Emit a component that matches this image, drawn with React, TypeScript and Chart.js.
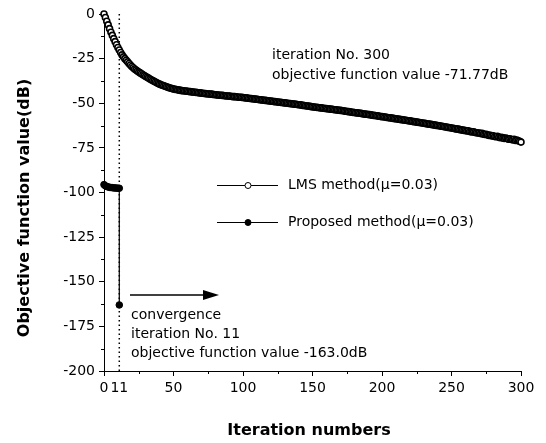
import React, { useEffect, useRef } from 'react';
import { Chart, registerables } from 'chart.js';

Chart.register(...registerables);

// ---- data ----
const xTickValues = [0, 11, 50, 100, 150, 200, 250, 300];
const convergenceIteration = 11;

// LMS method, objective function value (dB) for iterations 0..300
const lmsValues = [
  0, -2.0, -4.1, -6.1, -8.2, -10.2, -12.0, -13.8, -15.5, -17.2, -18.8,
  -20.2, -21.6, -22.9, -24.0, -25.0, -25.9, -26.8, -27.7, -28.6, -29.4,
  -30.1, -30.8, -31.4, -32.0, -32.5, -33.0, -33.5, -34.0, -34.5, -35.0,
  -35.5, -35.9, -36.4, -36.8, -37.3, -37.7, -38.1, -38.5, -38.9, -39.3,
  -39.6, -39.9, -40.2, -40.5, -40.8, -41.1, -41.3, -41.6, -41.8, -42.0,
  -42.2, -42.3, -42.5, -42.6, -42.8, -42.9, -43.0, -43.1, -43.2, -43.3,
  -43.4, -43.5, -43.6, -43.7, -43.8, -43.9, -44.0, -44.1, -44.2, -44.3,
  -44.4, -44.5, -44.6, -44.7, -44.8, -44.8, -44.9, -45.0, -45.1, -45.2,
  -45.3, -45.4, -45.5, -45.5, -45.6, -45.7, -45.8, -45.9, -45.9, -46.0,
  -46.1, -46.2, -46.3, -46.3, -46.4, -46.5, -46.6, -46.6, -46.7, -46.8,
  -46.9, -47.0, -47.1, -47.2, -47.3, -47.4, -47.5, -47.6, -47.7, -47.8,
  -47.9, -48.0, -48.1, -48.2, -48.3, -48.4, -48.5, -48.6, -48.7, -48.8,
  -48.9, -49.0, -49.1, -49.2, -49.3, -49.4, -49.5, -49.6, -49.7, -49.8,
  -49.9, -50.0, -50.1, -50.2, -50.3, -50.4, -50.5, -50.6, -50.7, -50.8,
  -50.9, -51.0, -51.2, -51.3, -51.4, -51.5, -51.6, -51.7, -51.9, -52.0,
  -52.1, -52.2, -52.3, -52.4, -52.5, -52.6, -52.7, -52.8, -52.9, -53.0,
  -53.1, -53.2, -53.3, -53.4, -53.5, -53.6, -53.7, -53.8, -53.9, -54.0,
  -54.1, -54.2, -54.4, -54.5, -54.6, -54.7, -54.8, -55.0, -55.1, -55.2,
  -55.3, -55.4, -55.5, -55.6, -55.7, -55.9, -56.0, -56.1, -56.2, -56.3,
  -56.4, -56.5, -56.7, -56.8, -56.9, -57.0, -57.1, -57.3, -57.4, -57.5,
  -57.6, -57.7, -57.9, -58.0, -58.1, -58.2, -58.3, -58.5, -58.6, -58.7,
  -58.8, -58.9, -59.1, -59.2, -59.3, -59.4, -59.5, -59.7, -59.8, -59.9,
  -60.0, -60.2, -60.3, -60.4, -60.6, -60.7, -60.8, -60.9, -61.1, -61.2,
  -61.3, -61.5, -61.6, -61.7, -61.8, -62.0, -62.1, -62.2, -62.4, -62.5,
  -62.6, -62.8, -62.9, -63.0, -63.2, -63.3, -63.5, -63.6, -63.7, -63.9,
  -64.0, -64.2, -64.3, -64.5, -64.4, -64.8, -64.9, -65.0, -65.2, -65.3,
  -65.5, -65.4, -65.8, -65.9, -66.1, -66.0, -66.4, -66.5, -66.7, -66.7,
  -67.0, -66.8, -67.3, -67.5, -67.4, -67.8, -68.0, -67.9, -68.3, -68.2,
  -68.6, -68.8, -68.5, -69.0, -69.3, -69.1, -69.4, -69.7, -69.5, -69.8,
  -70.1, -69.9, -70.3, -70.5, -70.2, -70.8, -70.6, -71.0, -71.3, -71.77,
];

// Proposed method
const proposedIterations = [0, 1, 2, 3, 4, 5, 6, 7, 8, 9, 10, 11, 11];
const proposedValues = [-95.6, -96.3, -96.6, -96.9, -97.1, -97.2, -97.3, -97.4, -97.5, -97.5, -97.6, -97.6, -163.0];

const yMinorTicks = [-12.5, -37.5, -62.5, -87.5, -112.5, -137.5, -162.5, -187.5];
const xMinorTicks = [25, 75, 125, 175, 225, 275];

const FONT = '"DejaVu Sans", sans-serif';

const overlayPlugin = {
  id: 'overlay',
  beforeDatasetsDraw(chart: any) {
    const { ctx, chartArea, scales } = chart;
    const px = scales.x.getPixelForValue(convergenceIteration);
    ctx.save();
    ctx.strokeStyle = '#000';
    ctx.lineWidth = 1.5;
    ctx.setLineDash([1.5, 3]);
    ctx.beginPath();
    ctx.moveTo(px, chartArea.top);
    ctx.lineTo(px, chartArea.bottom);
    ctx.stroke();
    ctx.restore();
  },
  afterDraw(chart: any) {
    const { ctx, chartArea, scales } = chart;
    ctx.save();
    ctx.strokeStyle = '#000';
    ctx.fillStyle = '#000';
    ctx.lineWidth = 1;
    // minor ticks
    ctx.beginPath();
    yMinorTicks.forEach((v) => {
      const py = Math.round(scales.y.getPixelForValue(v)) + 0.5;
      ctx.moveTo(chartArea.left - 3, py);
      ctx.lineTo(chartArea.left, py);
    });
    xMinorTicks.forEach((v) => {
      const px = Math.round(scales.x.getPixelForValue(v)) + 0.5;
      ctx.moveTo(px, chartArea.bottom);
      ctx.lineTo(px, chartArea.bottom + 3);
    });
    ctx.stroke();

    // annotations
    ctx.font = `14px ${FONT}`;
    ctx.textBaseline = 'middle';
    ctx.textAlign = 'left';
    ctx.fillText('iteration No. 300', 272, 55);
    ctx.fillText('objective function value -71.77dB', 272, 75);
    ctx.fillText('convergence', 131, 315);
    ctx.fillText('iteration No. 11', 131, 334);
    ctx.fillText('objective function value -163.0dB', 131, 353);

    // arrow
    ctx.lineWidth = 1.5;
    ctx.beginPath();
    ctx.moveTo(130, 295);
    ctx.lineTo(207, 295);
    ctx.stroke();
    ctx.beginPath();
    ctx.moveTo(219, 295);
    ctx.lineTo(203, 290);
    ctx.lineTo(203, 300);
    ctx.closePath();
    ctx.fill();

    // legend
    const legendRows = [
      { label: 'LMS method(\u03bc=0.03)', y: 185, fill: '#fff' },
      { label: 'Proposed method(\u03bc=0.03)', y: 222, fill: '#000' },
    ];
    legendRows.forEach((r) => {
      ctx.lineWidth = 1;
      ctx.beginPath();
      ctx.moveTo(217, r.y + 0.5);
      ctx.lineTo(278, r.y + 0.5);
      ctx.stroke();
      ctx.beginPath();
      ctx.arc(248, r.y + 0.5, 3, 0, Math.PI * 2);
      ctx.fillStyle = r.fill;
      ctx.fill();
      ctx.stroke();
      ctx.fillStyle = '#000';
      ctx.fillText(r.label, 288, r.y);
    });

    // axis titles
    ctx.font = `bold 16px ${FONT}`;
    ctx.textAlign = 'center';
    ctx.fillText('Iteration numbers', 309, 431);
    ctx.translate(25, 208);
    ctx.rotate(-Math.PI / 2);
    ctx.fillText('Objective function value(dB)', 0, 0);
    ctx.restore();
  },
};

export default function App() {
  const ref = useRef<HTMLCanvasElement>(null);
  useEffect(() => {
    document.body.style.margin = '0';
    Chart.defaults.color = '#000';
    const chart = new Chart(ref.current as HTMLCanvasElement, {
      type: 'scatter',
      data: {
        datasets: [
          {
            label: 'LMS method(\u03bc=0.03)',
            data: lmsValues.map((v, i) => ({ x: i, y: v })),
            showLine: true,
            borderColor: '#000',
            borderWidth: 1.5,
            pointRadius: 3,
            pointBorderWidth: 1.6,
            pointBackgroundColor: '#fff',
            pointBorderColor: '#000',
            clip: false,
          },
          {
            label: 'Proposed method(\u03bc=0.03)',
            data: proposedIterations.map((x, i) => ({ x, y: proposedValues[i] })),
            showLine: true,
            borderColor: '#000',
            borderWidth: 1.2,
            pointRadius: 3.3,
            pointBorderWidth: 1,
            pointBackgroundColor: '#000',
            pointBorderColor: '#000',
            clip: false,
          },
        ],
      },
      options: {
        responsive: false,
        animation: false,
        layout: { padding: { top: 14, right: 25, left: 0, bottom: 0 } },
        plugins: { legend: { display: false }, tooltip: { enabled: false } },
        scales: {
          x: {
            type: 'linear',
            min: 0,
            max: 300,
            afterBuildTicks: (scale: any) => {
              scale.ticks = xTickValues.map((v) => ({ value: v }));
            },
            afterFit: (scale: any) => {
              scale.height = 72;
            },
            ticks: {
              autoSkip: false,
              maxRotation: 0,
              padding: 4,
              color: '#000',
              font: { family: FONT, size: 14 },
            },
            grid: {
              drawOnChartArea: false,
              drawTicks: true,
              tickLength: 5,
              color: '#000',
              tickColor: (ctx: any) => (ctx.tick && ctx.tick.value === convergenceIteration ? 'rgba(0,0,0,0)' : '#000'),
            },
            border: { display: true, color: '#000', width: 1 },
          },
          y: {
            type: 'linear',
            min: -200,
            max: 0,
            afterFit: (scale: any) => {
              scale.width = 104;
            },
            ticks: {
              stepSize: 25,
              padding: 4,
              color: '#000',
              font: { family: FONT, size: 14 },
            },
            grid: {
              drawOnChartArea: false,
              drawTicks: true,
              tickLength: 5,
              color: '#000',
            },
            border: { display: true, color: '#000', width: 1 },
          },
        },
      },
      plugins: [overlayPlugin],
    });
    return () => chart.destroy();
  }, []);
  return (
    <div style={{ width: 546, height: 443 }}>
      <canvas ref={ref} width={546} height={443} style={{ display: 'block' }} />
    </div>
  );
}
